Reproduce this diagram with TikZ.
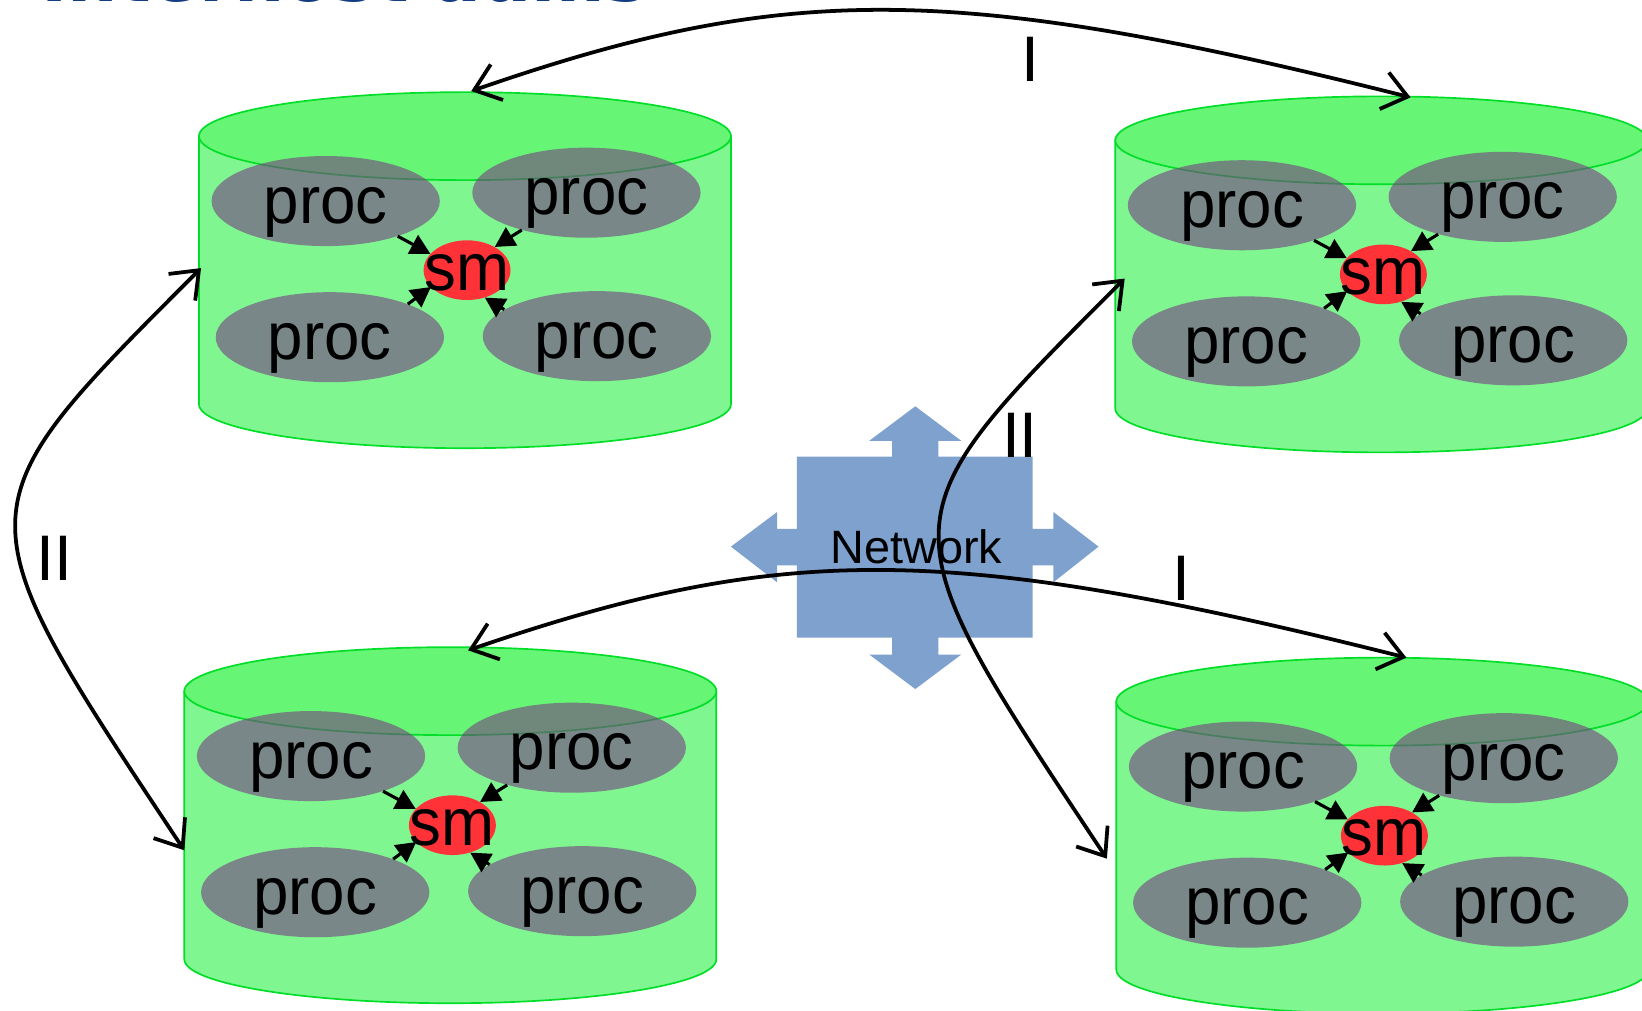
\documentclass[tikz,border=0pt]{standalone}
\usepackage{fontspec}
\setmainfont{Liberation Sans}
\newfontfamily\titlefont{DejaVu Sans}
\usetikzlibrary{shapes.geometric,arrows.meta}

\definecolor{bodygreen}{RGB}{128,246,145}
\definecolor{topgreen}{RGB}{102,245,117}
\definecolor{rimgreen}{RGB}{0,222,40}
\definecolor{procgray}{RGB}{119,62,130}
\definecolor{smred}{RGB}{255,50,56}
\definecolor{netblue}{RGB}{127,161,206}
\definecolor{titleblue}{RGB}{20,60,130}

% text placed on a zero-size box, baseline lowered by #1 below the node centre
\newcommand\blobtext[2]{\makebox[0pt]{\raisebox{-#1pt}[0pt][0pt]{\scalebox{0.95}[1]{#2}}}}

\tikzset{
  cylbody/.style={fill=bodygreen, draw=rimgreen, line width=1.6pt},
  cyltop/.style={fill=topgreen, draw=rimgreen, line width=1.6pt},
  proc/.style={ellipse, fill=procgray, fill opacity=0.6, text opacity=1,
    minimum width=218pt, minimum height=86pt, inner sep=0pt,
    font=\fontsize{64pt}{70pt}\selectfont},
  smblob/.style={ellipse, fill=smred, minimum width=83pt, minimum height=57pt,
    inner sep=0pt, font=\fontsize{64pt}{70pt}\selectfont},
  smarrow/.style={line width=3pt, -{Triangle[length=19pt,width=20pt]}},
  link/.style={line width=3.6pt,
    {Straight Barb[length=23pt,width=36pt]}-{Straight Barb[length=23pt,width=36pt]}},
  lbl/.style={inner sep=0pt, font=\fontsize{61.5pt}{66pt}\selectfont},
  % one host: a cylinder holding four processes around a shared-memory segment
  host/.pic={
    \filldraw[cylbody] (0,42) -- (0,298)
      arc[start angle=180, end angle=0, x radius=254, y radius=42]
      -- (508,42) -- cycle;
    \filldraw[cyltop] (254,42) ellipse[x radius=254, y radius=42];
    \node[proc] (-tl) at (121,104) {\blobtext{21}{proc}};
    \node[proc] (-tr) at (370,96)  {\blobtext{21}{proc}};
    \node[proc] (-bl) at (125,234) {\blobtext{21}{proc}};
    \node[proc] (-br) at (380,233) {\blobtext{21}{proc}};
    \node[smblob] (-sm) at (256,170) {\blobtext{19}{sm}};
    \draw[smarrow] (-tl.-26) -- (-sm.156);
    \draw[smarrow] (-tr.210) -- (-sm.40);
    \draw[smarrow] (-bl.23)  -- (-sm.205);
    \draw[smarrow] (-br.164) -- (-sm.-57);
  }
}

\begin{document}
\begin{tikzpicture}[x=1pt, y=-1pt]
\useasboundingbox (0,0) rectangle (1568,965);
\clip (0,0) rectangle (1568,965);

% slide title, mostly above the visible area
\node[anchor=base west, inner sep=0pt, text=titleblue,
  font=\titlefont\bfseries\fontsize{67.5pt}{70pt}\selectfont]
  (title) at (39,1.5) {Interhost aums};

% four hosts
\pic (hA) at (190,88)   {host};
\pic (hB) at (1065,92)  {host};
\pic (hC) at (176,618)  {host};
\pic (hD) at (1066,628) {host};

% network: four-way arrow
\fill[netblue] (874,388) -- (918,421) -- (896,421) -- (896,436) -- (986,436)
  -- (986,505) -- (1006,505) -- (1006,489) -- (1049,522) -- (1006,556)
  -- (1006,540) -- (986,540) -- (986,609) -- (896,609) -- (896,625)
  -- (918,625) -- (874,658) -- (830,625) -- (852,625) -- (852,609)
  -- (761,609) -- (761,540) -- (742,540) -- (742,556) -- (698,522)
  -- (742,489) -- (742,505) -- (761,505) -- (761,436) -- (852,436)
  -- (852,421) -- (830,421) -- cycle;
\node[anchor=base, inner sep=0pt, font=\fontsize{44.7pt}{50pt}\selectfont]
  (net) at (875,538) {Network};

% attachment points of the links on the hosts
\coordinate (pA1) at (450,87);
\coordinate (pB1) at (1347,93);
\coordinate (pC1) at (447,621);
\coordinate (pD1) at (1343,628);
\coordinate (pA2) at (192,256);
\coordinate (pC2) at (176,812);
\coordinate (pB2) at (1074,266);
\coordinate (pD2) at (1057,820);

% links between hosts
\draw[link] (pA1) .. controls (750,-17) and (910,-17) .. (pB1);
\draw[link] (pC1) .. controls (747,518) and (905,518) .. (pD1);
\draw[link] (pA2) .. controls (-41,489) and (-41,485) .. (pC2);
\draw[link] (pB2) .. controls (841,499) and (841,495) .. (pD2);

% link labels
\node[lbl] (l1) at (984,57)   {I};
\node[lbl] (l2) at (1128,552) {I};
\node[lbl] (l3) at (52,533)   {II};
\node[lbl] (l4) at (974,416)  {II};
\end{tikzpicture}
\end{document}
